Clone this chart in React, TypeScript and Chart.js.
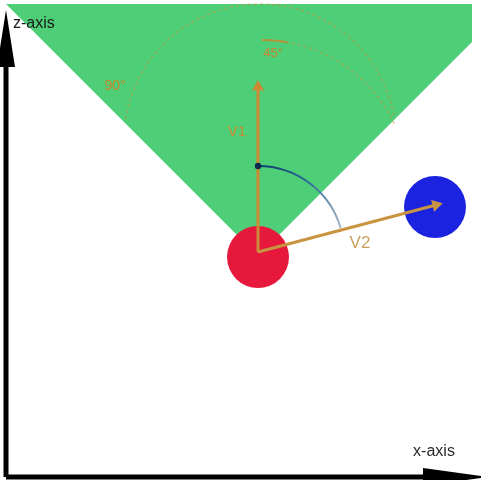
import React, { useEffect, useRef } from "react";
import { Chart, registerables } from "chart.js";

Chart.register(...registerables);

// Data coordinates (x-axis horizontal, z-axis vertical), origin at the axes corner
const xRange = [-6, 475];
const zRange = [-3, 477];

const zAxisShaft = [{ x: 0, y: 0 }, { x: 0, y: 412 }];
const zAxisHead = [{ x: -9, y: 410 }, { x: 0, y: 467 }, { x: 9, y: 410 }];
const xAxisShaft = [{ x: 0, y: 0 }, { x: 419, y: 0 }];
const xAxisHead = [{ x: 417, y: 9 }, { x: 482, y: 0 }, { x: 417, y: -9 }];

const conePolygon = [
  { x: 252, y: 221 },
  { x: 0, y: 473 },
  { x: 466, y: 473 },
  { x: 466, y: 435 },
  { x: 252, y: 221 },
];

const redBody = [{ x: 252, y: 220 }];
const blueBody = [{ x: 429, y: 270 }];

const vectorOrigin = { x: 252, y: 225 };
const v1End = { x: 252, y: 390 };
const v2End = { x: 430, y: 272 };

// arcs: center, radius, start/end angle (degrees, counter-clockwise from +x)
const outerArc = { cx: 254, cy: 337, r: 136, from: 171, to: 10 };
const innerArc = { cx: 256, cy: 291, r: 146, from: 90, to: 25 };
const angleArc = { cx: 252, cy: 225, r: 86, from: 90, to: 16 };

const labels = [
  { text: "z-axis", x: 7, y: 453, color: "#1a1a1a", size: 16, align: "left" },
  { text: "x-axis", x: 428, y: 25, color: "#2a2a2a", size: 16, align: "center" },
  { text: "V1", x: 231, y: 345, color: "#c88c34", size: 15, align: "center" },
  { text: "V2", x: 354, y: 234, color: "#c9a15e", size: 17, align: "center" },
  { text: "90°", x: 109, y: 391, color: "#c8862e", size: 14, align: "center" },
  { text: "45°", x: 267, y: 424, color: "#c8862e", size: 13, align: "center" },
];

const ORANGE = "#cc8a34";

function rotationDeg(a: { x: number; y: number }, b: { x: number; y: number }) {
  return (Math.atan2(b.x - a.x, b.y - a.y) * 180) / Math.PI;
}

const overlayPlugin = {
  id: "overlay",
  afterDatasetsDraw(chart: any) {
    const { ctx, scales } = chart;
    const xs = scales.x;
    const ys = scales.y;
    const px = (v: number) => xs.getPixelForValue(v);
    const py = (v: number) => ys.getPixelForValue(v);
    const unit = Math.abs(px(1) - px(0));
    const toRad = (d: number) => (-d * Math.PI) / 180;

    ctx.save();
    [outerArc, innerArc].forEach((a) => {
      ctx.beginPath();
      ctx.setLineDash([3, 3]);
      ctx.lineWidth = 1.5;
      ctx.strokeStyle = "rgba(200,135,50,0.5)";
      ctx.arc(px(a.cx), py(a.cy), a.r * unit, toRad(a.from), toRad(a.to), false);
      ctx.stroke();
    });
    ctx.setLineDash([]);
    ctx.beginPath();
    ctx.lineWidth = 2;
    ctx.strokeStyle = "rgba(200,135,50,0.8)";
    ctx.arc(px(innerArc.cx), py(innerArc.cy), innerArc.r * unit, toRad(90), toRad(80), false);
    ctx.stroke();

    const cx = px(angleArc.cx);
    const cy = py(angleArc.cy);
    const r = angleArc.r * unit;
    const sx = cx + r * Math.cos(toRad(angleArc.from));
    const sy = cy + r * Math.sin(toRad(angleArc.from));
    const ex = cx + r * Math.cos(toRad(angleArc.to));
    const ey = cy + r * Math.sin(toRad(angleArc.to));
    const grad = ctx.createLinearGradient(sx, sy, ex, ey);
    grad.addColorStop(0, "#0e3d6e");
    grad.addColorStop(0.5, "#2f6f98");
    grad.addColorStop(1, "#a9b6c8");
    ctx.beginPath();
    ctx.lineWidth = 2;
    ctx.strokeStyle = grad;
    ctx.arc(cx, cy, r, toRad(angleArc.from), toRad(angleArc.to), false);
    ctx.stroke();
    ctx.beginPath();
    ctx.fillStyle = "#0b2a4e";
    ctx.arc(sx, sy, 3.2, 0, Math.PI * 2);
    ctx.fill();

    labels.forEach((l) => {
      ctx.font = `${l.size}px "Liberation Sans", Arial, sans-serif`;
      ctx.fillStyle = l.color;
      ctx.textAlign = l.align as CanvasTextAlign;
      ctx.textBaseline = "middle";
      ctx.fillText(l.text, px(l.x), py(l.y));
    });
    ctx.restore();
  },
};

export default function App() {
  const canvasRef = useRef<HTMLCanvasElement | null>(null);

  useEffect(() => {
    document.body.style.margin = "0";
    const canvas = canvasRef.current;
    if (!canvas) return;
    const line = (data: any[], color: string, width: number, order: number, extra: any = {}) => ({
      data,
      showLine: true,
      borderColor: color,
      backgroundColor: color,
      borderWidth: width,
      pointRadius: 0,
      fill: false,
      order,
      ...extra,
    });
    const shape = (data: any[], color: string, order: number) => ({
      data,
      showLine: true,
      borderWidth: 0,
      borderColor: "rgba(0,0,0,0)",
      backgroundColor: color,
      pointRadius: 0,
      fill: "shape",
      order,
    });
    const chart = new Chart(canvas, {
      type: "scatter",
      data: {
        datasets: [
          shape(conePolygon, "#4ecf77", 20) as any,
          {
            data: redBody,
            pointRadius: 31,
            pointHoverRadius: 31,
            backgroundColor: "#e6193c",
            borderWidth: 0,
            order: 19,
          },
          {
            data: blueBody,
            pointRadius: 31,
            pointHoverRadius: 31,
            backgroundColor: "#1b22e0",
            borderWidth: 0,
            order: 18,
          },
          line([vectorOrigin, v1End], ORANGE, 3, 17, {
            pointRadius: [0, 7],
            pointStyle: "triangle",
            pointRotation: [0, rotationDeg(vectorOrigin, v1End)],
            pointBackgroundColor: ORANGE,
            pointBorderWidth: 0,
          }),
          line([vectorOrigin, v2End], "#c99440", 3, 16, {
            pointRadius: [0, 7],
            pointStyle: "triangle",
            pointRotation: [0, rotationDeg(vectorOrigin, v2End)],
            pointBackgroundColor: "#c99440",
            pointBorderWidth: 0,
          }),
          line(zAxisShaft, "#000000", 5, 10),
          shape(zAxisHead, "#000000", 9) as any,
          line(xAxisShaft, "#000000", 5, 8),
          shape(xAxisHead, "#000000", 7) as any,
        ],
      },
      options: {
        animation: false,
        responsive: false,
        maintainAspectRatio: false,
        layout: { padding: 0, autoPadding: false },
        events: [],
        scales: {
          x: { type: "linear", min: xRange[0], max: xRange[1], display: false },
          y: { type: "linear", min: zRange[0], max: zRange[1], display: false },
        },
        plugins: {
          legend: { display: false },
          tooltip: { enabled: false },
        },
      },
      plugins: [overlayPlugin],
    });
    return () => chart.destroy();
  }, []);

  return (
    <div style={{ width: 481, height: 480, background: "#ffffff" }}>
      <canvas ref={canvasRef} width={481} height={480} />
    </div>
  );
}
